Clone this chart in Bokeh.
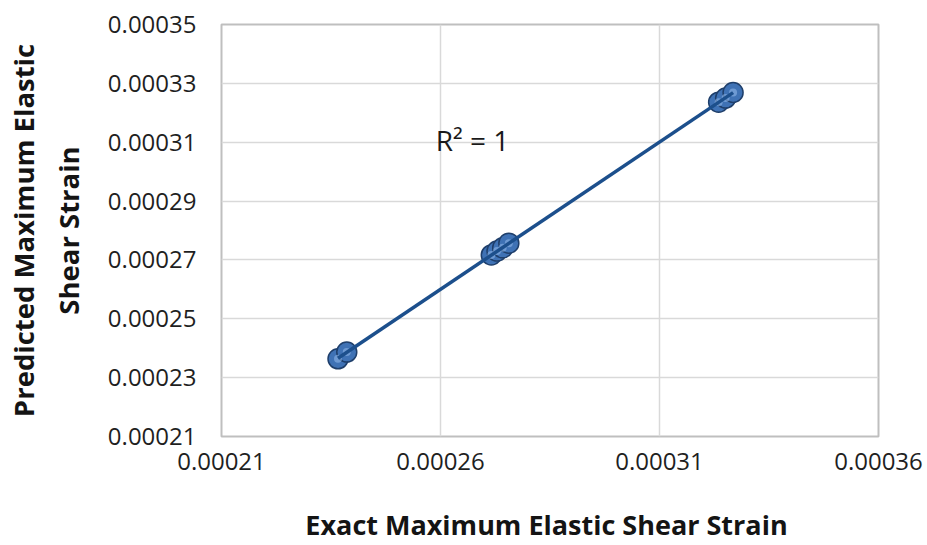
import numpy as np
from bokeh.plotting import figure
from bokeh.models import FixedTicker, PrintfTickFormatter, Range1d, Label
from bokeh.embed import file_html
from bokeh.resources import INLINE

# Data
exact = [0.0002366, 0.0002386, 0.0002716, 0.0002729, 0.0002742, 0.0002756,
         0.0003235, 0.0003251, 0.0003268]
predicted = [0.0002364, 0.0002387, 0.0002717, 0.0002730, 0.0002741, 0.0002757,
             0.0003236, 0.0003250, 0.0003269]
x_ticks = [0.00021, 0.00026, 0.00031, 0.00036]
y_ticks = [0.00021, 0.00023, 0.00025, 0.00027, 0.00029, 0.00031, 0.00033, 0.00035]
r2_text = "R² = 1"

FONT = "Open Sans"

p = figure(width=927, height=545, output_backend="svg", toolbar_location=None,
           x_range=Range1d(0.00021, 0.00036), y_range=Range1d(0.00021, 0.00035),
           min_border_left=221, min_border_right=49, min_border_top=24,
           min_border_bottom=108)
p.background_fill_color = "white"
p.border_fill_color = "white"
p.outline_line_color = "#BFBFBF"
p.outline_line_width = 2

for ax in (p.xaxis[0], p.yaxis[0]):
    ax.major_label_text_font = FONT
    ax.major_label_text_font_size = "24px"
    ax.major_label_text_color = "#1f1f1f"
    ax.major_tick_out = 0
    ax.major_tick_in = 0
    ax.minor_tick_out = 0
    ax.minor_tick_in = 0
    ax.axis_line_color = None
    ax.axis_label_text_font = FONT
    ax.axis_label_text_font_style = "bold"
    ax.axis_label_text_color = "#141414"
    ax.formatter = PrintfTickFormatter(format="%.5f")

p.xaxis.axis_label_text_font_size = "27px"
p.yaxis.axis_label_text_font_size = "27.5px"
p.xaxis.ticker = FixedTicker(ticks=x_ticks)
p.yaxis.ticker = FixedTicker(ticks=y_ticks)
p.xaxis.major_label_standoff = 16
p.yaxis.major_label_standoff = 25
p.xaxis.axis_label_standoff = 33
p.yaxis.axis_label_standoff = 18
p.xaxis.axis_label = "Exact Maximum  Elastic Shear Strain"
p.yaxis.axis_label = "Predicted Maximum Elastic\nShear Strain"

p.xgrid.ticker = FixedTicker(ticks=x_ticks)
p.ygrid.ticker = FixedTicker(ticks=y_ticks)
p.xgrid.grid_line_color = "#D9D9D9"
p.ygrid.grid_line_color = "#D9D9D9"
p.xgrid.grid_line_width = 1.5
p.ygrid.grid_line_width = 1.5

# markers
p.scatter(exact, predicted, size=20, fill_color="#3F72B5", line_color="#1F3F6B",
          line_width=1.5)
p.scatter(exact, predicted, size=8, fill_color="#8DB6E8", line_color=None,
          fill_alpha=0.6)

# linear trendline
coef = np.polyfit(exact, predicted, 1)
xs = np.array([min(exact), max(exact)])
p.line(xs, np.polyval(coef, xs), line_color="#1C4F8C", line_width=3.5)

lab = Label(x=0.0002589, y=0.0003107, text=r2_text, text_font=FONT,
            text_font_size="28px", text_color="#1a1a1a", text_baseline="middle")
p.add_layout(lab)

open("out.html", "w").write(file_html(p, INLINE))
